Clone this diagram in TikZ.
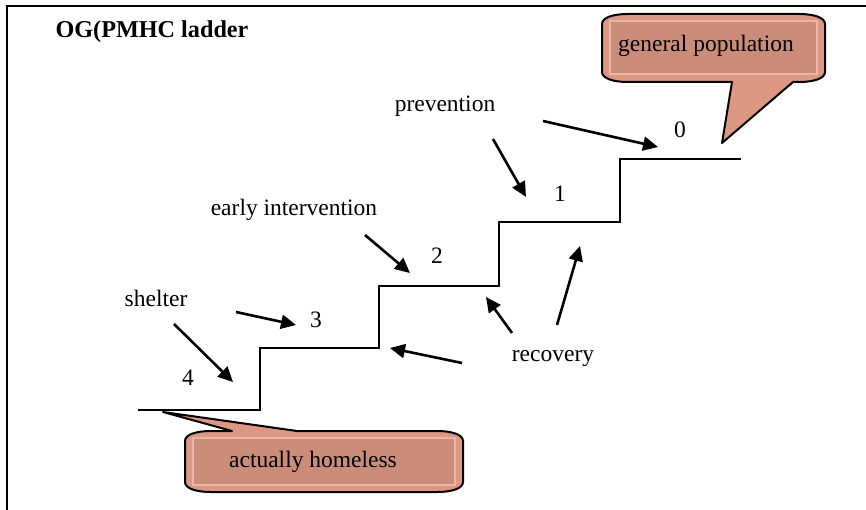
\documentclass[tikz,border=0pt]{standalone}
\usepackage{fontspec}
\setmainfont{Liberation Serif}
\usetikzlibrary{arrows.meta}
\definecolor{rim}{RGB}{220,152,130}
\definecolor{body}{RGB}{203,141,121}
\definecolor{stripe}{RGB}{234,182,166}
\tikzset{
  lbl/.style={inner sep=0pt, font=\fontsize{23.5}{28}\selectfont},
  ttl/.style={inner sep=0pt, font=\fontsize{24.2}{28}\selectfont\bfseries},
  stair/.style={line width=2.2pt},
  arr/.style={line width=2.6pt, -{Triangle[length=15pt,width=14pt]}},
  callout/.style={fill=rim, draw=black, line width=2pt, line join=round},
  inner/.style={fill=body, draw=stripe, line width=1.3pt},
  frame/.style={line width=2.4pt}
}
\begin{document}
\begin{tikzpicture}[x=1pt,y=-1pt]
\useasboundingbox (0,0) rectangle (866,510);
% frame
\draw[frame] (7,510) -- (7,6) -- (866,6);
% title
\node[ttl] (title) at (152,32) {OG(PMHC ladder};
% general population callout
\path[callout] (602,24) .. controls (602,18) and (612,14) .. (628,14) -- (799,14)
  .. controls (815,14) and (825,18) .. (825,24)
  -- (825,72) .. controls (825,78) and (815,82) .. (799,82) -- (793,82) -- (722,143) -- (732,82) -- (628,82)
  .. controls (612,82) and (602,78) .. (602,72) -- cycle;
\path[inner] (610,21) rectangle (817,74);
\node[lbl] (gp) at (706,46) {general population};
% actually homeless callout
\path[callout] (185,441) .. controls (185,435) and (195,431) .. (211,431) -- (232,431) -- (163,412) -- (297,431)
  -- (437,431) .. controls (453,431) and (463,435) .. (463,441) -- (463,482)
  .. controls (463,488) and (453,492) .. (437,492)
  -- (211,492) .. controls (195,492) and (185,488) .. (185,482) -- cycle;
\path[inner] (193,438) rectangle (455,485);
\node[lbl] (ah) at (313,462) {actually homeless};
% staircase
\coordinate (s0) at (138,410);
\coordinate (s1) at (260,410);
\coordinate (s2) at (260,348);
\coordinate (s3) at (379,348);
\coordinate (s4) at (379,286);
\coordinate (s5) at (499,286);
\coordinate (s6) at (499,222);
\coordinate (s7) at (620,222);
\coordinate (s8) at (620,159);
\coordinate (s9) at (741,159);
\draw[stair] (s0) -- (s1) -- (s2) -- (s3) -- (s4) -- (s5) -- (s6) -- (s7) -- (s8) -- (s9);
% step numbers
\node[lbl] (n0) at (680,130) {0};
\node[lbl] (n1) at (560,194) {1};
\node[lbl] (n2) at (437,256) {2};
\node[lbl] (n3) at (316,320) {3};
\node[lbl] (n4) at (188,378) {4};
% labels
\node[lbl] (prev) at (445,106) {prevention};
\node[lbl] (early) at (294,210) {early intervention};
\node[lbl] (shelter) at (156,298) {shelter};
\node[lbl] (rec) at (553,358) {recovery};
% arrows
\coordinate (a1s) at (543,121); \coordinate (a1e) at (658,147);
\coordinate (a2s) at (493,139); \coordinate (a2e) at (526,197);
\coordinate (a3s) at (365,235); \coordinate (a3e) at (410,273);
\coordinate (a4s) at (236,312); \coordinate (a4e) at (296,325);
\coordinate (a5s) at (174,324); \coordinate (a5e) at (233,382);
\coordinate (a6s) at (462,363); \coordinate (a6e) at (390,348);
\coordinate (a7s) at (512,333); \coordinate (a7e) at (486,297);
\coordinate (a8s) at (557,325); \coordinate (a8e) at (580,246);
\draw[arr] (a1s) -- (a1e);
\draw[arr] (a2s) -- (a2e);
\draw[arr] (a3s) -- (a3e);
\draw[arr] (a4s) -- (a4e);
\draw[arr] (a5s) -- (a5e);
\draw[arr] (a6s) -- (a6e);
\draw[arr] (a7s) -- (a7e);
\draw[arr] (a8s) -- (a8e);
\end{tikzpicture}
\end{document}
